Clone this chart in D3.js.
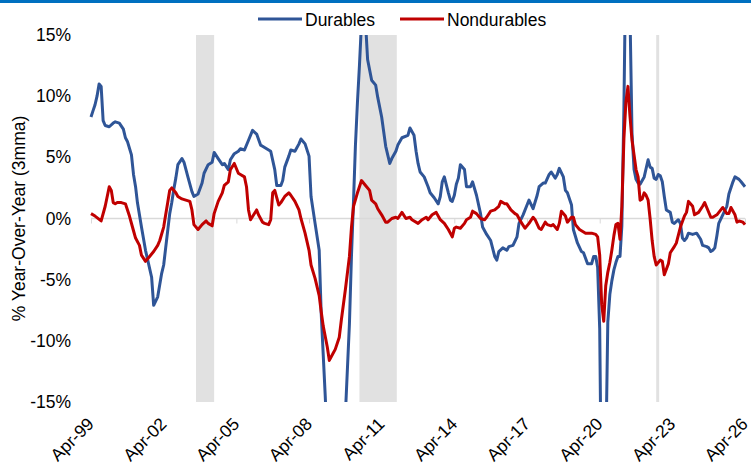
<!DOCTYPE html>
<html>
<head>
<meta charset="utf-8">
<script src="https://cdn.jsdelivr.net/npm/d3@7"></script>
<style>
  body { margin: 0; background: #fff; }
  svg { display: block; font-family: "Liberation Sans", Arial, sans-serif; }
</style>
</head>
<body>
<div id="chart"></div>
<script>

//~~~~~~~~~~~~~~~~~~DATA SET
// % year-over-year (3mma), [month, value]
const durables = [
  ["1999-04", 8.3], ["1999-05", 8.8], ["1999-06", 9.3], ["1999-07", 10.0], ["1999-08", 11.0], ["1999-09", 10.8],
  ["1999-10", 8.0], ["1999-11", 7.6], ["2000-01", 7.5], ["2000-03", 7.8], ["2000-04", 7.9], ["2000-06", 7.8],
  ["2000-08", 7.3], ["2000-09", 6.6], ["2000-10", 6.3], ["2000-12", 5.2], ["2001-01", 3.6], ["2001-02", 2.6],
  ["2001-03", 1.3], ["2001-05", -0.7], ["2001-07", -2.6], ["2001-10", -4.8], ["2001-11", -7.1], ["2002-01", -6.4],
  ["2002-03", -4.5], ["2002-04", -3.8], ["2002-05", -2.4], ["2002-07", 0.4], ["2002-08", 1.3], ["2002-09", 2.4],
  ["2002-10", 3.3], ["2002-11", 4.4], ["2003-01", 4.9], ["2003-02", 4.6], ["2003-04", 3.4], ["2003-06", 2.2],
  ["2003-07", 1.8], ["2003-09", 2.0], ["2003-11", 2.9], ["2003-12", 3.7], ["2004-02", 4.4], ["2004-04", 4.6],
  ["2004-05", 5.4], ["2004-07", 4.9], ["2004-09", 4.4], ["2004-10", 4.5], ["2004-12", 4.0], ["2005-01", 4.8],
  ["2005-03", 5.3], ["2005-05", 5.5], ["2005-06", 5.7], ["2005-08", 5.6], ["2005-10", 6.4], ["2005-12", 7.2],
  ["2006-02", 6.9], ["2006-04", 6.0], ["2006-05", 5.9], ["2006-07", 5.7], ["2006-09", 5.5], ["2006-11", 4.0],
  ["2006-12", 2.7], ["2007-02", 2.7], ["2007-03", 3.1], ["2007-04", 4.2], ["2007-06", 5.1], ["2007-07", 5.6],
  ["2007-09", 5.5], ["2007-11", 6.1], ["2007-12", 6.5], ["2008-02", 6.1], ["2008-04", 5.1], ["2008-05", 1.8],
  ["2008-07", -0.4], ["2008-09", -2.6], ["2008-10", -7.7], ["2008-12", -14.5], ["2009-02", -22], ["2009-05", -24],
  ["2009-08", -20], ["2009-10", -16], ["2009-12", -8.6], ["2010-01", -3.0], ["2010-02", 1.5], ["2010-03", 5.9],
  ["2010-04", 9.5], ["2010-05", 12.5], ["2010-06", 16], ["2010-07", 18], ["2010-08", 16], ["2010-09", 13.0],
  ["2010-11", 11.3], ["2011-01", 10.9], ["2011-02", 9.9], ["2011-04", 8.3], ["2011-06", 5.9], ["2011-08", 4.5],
  ["2011-09", 4.9], ["2011-11", 5.5], ["2011-12", 6.0], ["2012-02", 6.6], ["2012-05", 6.8], ["2012-06", 7.4],
  ["2012-08", 6.8], ["2012-09", 5.5], ["2012-10", 4.5], ["2012-11", 3.8], ["2013-01", 3.4], ["2013-03", 2.6],
  ["2013-04", 2.1], ["2013-06", 1.7], ["2013-08", 1.2], ["2013-09", 1.8], ["2013-10", 3.0], ["2013-11", 3.4],
  ["2014-01", 2.1], ["2014-02", 1.5], ["2014-03", 1.4], ["2014-04", 1.9], ["2014-05", 2.8], ["2014-06", 3.3],
  ["2014-07", 4.4], ["2014-09", 4.0], ["2014-10", 2.6], ["2014-12", 2.6], ["2015-01", 3.0], ["2015-03", 1.9],
  ["2015-05", 0.4], ["2015-06", -0.7], ["2015-08", -1.3], ["2015-10", -1.8], ["2015-12", -3.1], ["2016-01", -3.4],
  ["2016-02", -2.7], ["2016-04", -2.4], ["2016-06", -2.6], ["2016-07", -2.3], ["2016-09", -2.2], ["2016-11", -1.5],
  ["2016-12", -0.4], ["2017-02", 0.3], ["2017-04", 1.1], ["2017-05", 1.5], ["2017-07", 0.8], ["2017-09", 1.9],
  ["2017-10", 2.6], ["2017-12", 2.9], ["2018-01", 2.9], ["2018-03", 3.6], ["2018-04", 3.8], ["2018-06", 3.3],
  ["2018-07", 3.6], ["2018-08", 4.1], ["2018-10", 3.4], ["2018-11", 2.3], ["2018-12", 2.1], ["2019-02", 1.1],
  ["2019-03", -0.9], ["2019-05", -2.0], ["2019-07", -2.7], ["2019-08", -2.8], ["2019-10", -3.7], ["2019-12", -3.7],
  ["2020-01", -3.1], ["2020-02", -3.1], ["2020-03", -4.0], ["2020-04", -9], ["2020-05", -25], ["2020-06", -32],
  ["2020-07", -20], ["2020-08", -8.5], ["2020-09", -6.2], ["2020-10", -5.1], ["2020-11", -4.2], ["2020-12", -3.6],
  ["2021-01", -3.1], ["2021-02", -3.1], ["2021-03", -0.6], ["2021-04", 9], ["2021-05", 22], ["2021-06", 28],
  ["2021-07", 17], ["2021-08", 7.0], ["2021-09", 4.0], ["2021-10", 3.2], ["2021-11", 2.9], ["2021-12", 2.8],
  ["2022-02", 3.4], ["2022-04", 4.8], ["2022-05", 4.2], ["2022-06", 4.1], ["2022-07", 3.3], ["2022-08", 3.2],
  ["2022-09", 3.6], ["2022-10", 3.5], ["2022-11", 3.0], ["2022-12", 1.8], ["2023-01", 0.7], ["2023-03", 0.5],
  ["2023-04", -0.3], ["2023-05", -0.4], ["2023-07", -0.1], ["2023-08", -0.4], ["2023-09", -1.6], ["2023-10", -1.8],
  ["2023-11", -1.6], ["2023-12", -1.2], ["2024-02", -1.3], ["2024-04", -1.2], ["2024-06", -1.7], ["2024-07", -2.2],
  ["2024-09", -2.3], ["2024-10", -2.4], ["2024-11", -2.7], ["2024-12", -2.6], ["2025-01", -2.4], ["2025-02", -1.4],
  ["2025-03", -0.4], ["2025-05", 0.3], ["2025-07", 1.0], ["2025-08", 2.0], ["2025-10", 3.0], ["2025-11", 3.4],
  ["2026-01", 3.2], ["2026-02", 3.0], ["2026-04", 2.6]
];

const nondurables = [
  ["1999-04", 0.4], ["1999-06", 0.2], ["1999-09", -0.2], ["1999-11", 1.0], ["2000-01", 2.6], ["2000-02", 2.3],
  ["2000-03", 1.3], ["2000-04", 1.2], ["2000-05", 1.3], ["2000-07", 1.3], ["2000-09", 1.2], ["2000-11", 0.2],
  ["2001-01", -1.0], ["2001-02", -1.6], ["2001-04", -2.2], ["2001-05", -3.0], ["2001-07", -3.5], ["2001-09", -3.1],
  ["2001-11", -2.7], ["2002-01", -2.2], ["2002-02", -1.8], ["2002-04", -0.7], ["2002-05", 0.3], ["2002-06", 1.3],
  ["2002-07", 2.3], ["2002-08", 2.5], ["2002-10", 2.1], ["2002-11", 1.8], ["2003-01", 1.6], ["2003-03", 1.5],
  ["2003-05", 1.4], ["2003-06", 0.7], ["2003-07", -0.5], ["2003-09", -0.9], ["2003-11", -0.5], ["2004-01", -0.2],
  ["2004-02", -0.4], ["2004-04", -0.6], ["2004-05", 0.4], ["2004-07", 1.4], ["2004-09", 2.1], ["2004-10", 2.7],
  ["2004-12", 3.0], ["2005-01", 4.0], ["2005-03", 4.5], ["2005-05", 3.7], ["2005-06", 3.6], ["2005-08", 3.4],
  ["2005-09", 2.6], ["2005-10", 0.7], ["2005-11", -0.1], ["2006-02", 0.7], ["2006-03", 0.3], ["2006-05", -0.3],
  ["2006-06", -0.4], ["2006-08", -0.5], ["2006-09", -0.1], ["2006-10", 2.1], ["2006-11", 2.3], ["2007-01", 1.1],
  ["2007-02", 1.3], ["2007-04", 1.8], ["2007-06", 2.1], ["2007-07", 1.9], ["2007-09", 1.4], ["2007-11", 0.7],
  ["2007-12", 0.0], ["2008-02", -1.2], ["2008-04", -2.6], ["2008-05", -3.8], ["2008-07", -4.9], ["2008-09", -6.3],
  ["2008-10", -7.6], ["2008-11", -8.8], ["2009-01", -10.5], ["2009-02", -11.6], ["2009-04", -11.0], ["2009-05", -10.7],
  ["2009-07", -9.7], ["2009-08", -8.3], ["2009-10", -5.8], ["2009-12", -3.1], ["2010-01", -0.7], ["2010-02", 1.0],
  ["2010-04", 2.1], ["2010-06", 3.1], ["2010-08", 2.7], ["2010-10", 2.3], ["2010-11", 1.5], ["2011-01", 1.2],
  ["2011-02", 0.8], ["2011-04", 0.3], ["2011-06", -0.3], ["2011-07", -0.3], ["2011-09", 0.0], ["2011-11", 0.1],
  ["2011-12", 0.0], ["2012-02", 0.5], ["2012-04", 0.0], ["2012-06", 0.1], ["2012-07", -0.1], ["2012-10", -0.4],
  ["2012-12", -0.1], ["2013-02", 0.1], ["2013-03", -0.1], ["2013-05", 0.3], ["2013-07", 0.5], ["2013-09", -0.1],
  ["2013-11", -0.4], ["2014-01", -0.9], ["2014-03", -1.5], ["2014-04", -0.8], ["2014-05", -0.7], ["2014-07", -0.8],
  ["2014-09", -0.4], ["2014-10", -0.1], ["2014-12", 0.1], ["2015-01", 0.6], ["2015-03", 0.4], ["2015-05", 0.0],
  ["2015-07", -0.1], ["2015-08", 0.1], ["2015-10", 0.6], ["2015-12", 0.7], ["2016-02", 1.0], ["2016-03", 1.4],
  ["2016-05", 1.2], ["2016-06", 1.2], ["2016-08", 0.7], ["2016-10", 0.4], ["2016-11", 0.3], ["2017-01", -0.3],
  ["2017-03", -0.8], ["2017-05", -0.4], ["2017-07", 0.1], ["2017-08", -0.1], ["2017-10", -0.8], ["2017-11", -0.9],
  ["2018-01", -0.3], ["2018-02", -0.5], ["2018-04", -0.6], ["2018-05", -0.5], ["2018-07", -0.9], ["2018-08", -0.4],
  ["2018-09", 0.6], ["2018-11", 0.2], ["2018-12", -0.3], ["2019-02", 0.1], ["2019-03", 0.1], ["2019-04", -0.5],
  ["2019-06", -0.9], ["2019-09", -1.2], ["2019-12", -1.2], ["2020-02", -1.3], ["2020-03", -1.5], ["2020-04", -3.0],
  ["2020-05", -7.0], ["2020-06", -8.4], ["2020-07", -5.5], ["2020-08", -4.4], ["2020-09", -3.6], ["2020-10", -2.6],
  ["2020-11", -1.4], ["2020-12", -0.5], ["2021-01", -0.4], ["2021-02", -1.7], ["2021-03", 1.0], ["2021-04", 6.5],
  ["2021-05", 9.5], ["2021-06", 10.8], ["2021-07", 8.4], ["2021-08", 6.4], ["2021-09", 5.2], ["2021-10", 4.0],
  ["2021-11", 3.4], ["2021-12", 1.5], ["2022-01", 1.6], ["2022-02", 2.1], ["2022-03", 1.9], ["2022-04", 1.5],
  ["2022-05", 0.0], ["2022-06", -1.8], ["2022-07", -3.1], ["2022-08", -3.8], ["2022-10", -3.4], ["2022-11", -3.5],
  ["2022-12", -4.6], ["2023-02", -3.7], ["2023-03", -2.8], ["2023-05", -2.3], ["2023-06", -2.0], ["2023-08", -0.7],
  ["2023-10", 0.2], ["2023-11", 0.5], ["2023-12", 1.4], ["2024-02", 1.0], ["2024-03", 0.3], ["2024-05", 0.5],
  ["2024-07", 1.0], ["2024-08", 1.3], ["2024-09", 0.9], ["2024-11", 0.1], ["2024-12", 0.1], ["2025-02", 0.3],
  ["2025-04", 0.7], ["2025-05", 0.9], ["2025-07", 0.4], ["2025-08", 0.4], ["2025-09", 0.9], ["2025-11", 0.3],
  ["2025-12", -0.3], ["2026-01", -0.2], ["2026-03", -0.3], ["2026-04", -0.5]
];

// shaded periods
const bandStarts = ["2003-08-01", "2010-05-01", "2022-08-01"];
const bandEnds   = ["2004-05-01", "2011-11-15", "2022-09-15"];

// axis labels
const xTickLabels = ["Apr-99", "Apr-02", "Apr-05", "Apr-08", "Apr-11", "Apr-14", "Apr-17", "Apr-20", "Apr-23", "Apr-26"];
const yTickValues = [15, 10, 5, 0, -5, -10, -15];

const seriesNames = ["Durables", "Nondurables"];


//~~~~~~~~~~~~~~~~~~VARIABLES
let width = 751;
let height = 468;
let plotLeft = 91, plotRight = 745, plotTop = 35, plotBottom = 402;

let colors = ["#2f5597", "#c00000"];
let fontSize = 17.5;

let parseMonth = d3.timeParse("%Y-%m");
let parseDay = d3.timeParse("%Y-%m-%d");
let parseLabel = d3.timeParse("%b-%y");

let x = d3.scaleTime()
  .domain([parseMonth("1999-04"), parseMonth("2026-04")])
  .range([plotLeft, plotRight]);

let y = d3.scaleLinear()
  .domain([-15, 15])
  .range([plotBottom, plotTop]);


//~~~~~~~~~~~~~~~~~~CHART
let svg = d3.select("#chart")
  .append("svg")
  .attr("width", width)
  .attr("height", height);

//blue strip along the top edge
svg.append("rect")
  .attr("x", 0).attr("y", 0)
  .attr("width", width).attr("height", 3)
  .attr("fill", "#0070c0");

svg.append("clipPath")
  .attr("id", "plot-clip")
  .append("rect")
  .attr("x", plotLeft - 5).attr("y", plotTop)
  .attr("width", plotRight - plotLeft + 10).attr("height", plotBottom - plotTop);

//grey shaded periods
svg.selectAll(".band")
  .data(d3.zip(bandStarts, bandEnds))
  .enter()
  .append("rect")
  .attr("class", "band")
  .attr("x", d => x(parseDay(d[0])))
  .attr("width", d => x(parseDay(d[1])) - x(parseDay(d[0])))
  .attr("y", plotTop)
  .attr("height", plotBottom - plotTop)
  .attr("fill", "#e1e1e1");

//zero line with tick marks, like the category axis
svg.append("line")
  .attr("x1", plotLeft).attr("x2", plotRight)
  .attr("y1", y(0)).attr("y2", y(0))
  .attr("stroke", "#d9d9d9")
  .attr("stroke-width", 1.5);

let xAxis = d3.axisBottom(x)
  .tickValues(xTickLabels.map(parseLabel))
  .tickSize(5)
  .tickFormat("");

svg.append("g")
  .attr("transform", "translate(0," + y(0) + ")")
  .call(xAxis)
  .call(g => g.select(".domain").remove())
  .call(g => g.selectAll("line").attr("stroke", "#d9d9d9"));

//rotated date labels under the plot
svg.selectAll(".xlabel")
  .data(xTickLabels)
  .enter()
  .append("text")
  .attr("class", "xlabel")
  .attr("transform", d => "translate(" + (x(parseLabel(d)) + 4) + "," + (plotBottom + 23) + ") rotate(-45)")
  .attr("text-anchor", "end")
  .attr("font-size", fontSize)
  .attr("fill", "#000")
  .text(d => d);

//y labels
svg.selectAll(".ylabel")
  .data(yTickValues)
  .enter()
  .append("text")
  .attr("class", "ylabel")
  .attr("x", 71)
  .attr("y", d => y(d) + 6)
  .attr("text-anchor", "end")
  .attr("font-size", fontSize)
  .attr("fill", "#000")
  .text(d => d + "%");

svg.append("text")
  .attr("transform", "translate(25," + ((plotTop + plotBottom) / 2) + ") rotate(-90)")
  .attr("text-anchor", "middle")
  .attr("font-size", fontSize)
  .attr("fill", "#000")
  .text("% Year-Over-Year (3mma)");

//the two lines
let line = d3.line()
  .x(d => x(parseMonth(d[0])))
  .y(d => y(d[1]));

svg.append("g")
  .attr("clip-path", "url(#plot-clip)")
  .selectAll("path")
  .data([durables, nondurables])
  .enter()
  .append("path")
  .attr("d", line)
  .attr("fill", "none")
  .attr("stroke", (d, i) => colors[i])
  .attr("stroke-width", 3)
  .attr("stroke-linejoin", "round");


//~~~~~~~~~~~~~~~~~~LEGEND
let legendX = [258, 400];

let legend = svg.selectAll(".legend")
  .data(seriesNames)
  .enter()
  .append("g")
  .attr("class", "legend")
  .attr("transform", (d, i) => "translate(" + legendX[i] + ",19)");

legend.append("line")
  .attr("x1", 0).attr("x2", 44)
  .attr("stroke", (d, i) => colors[i])
  .attr("stroke-width", 3);

legend.append("text")
  .attr("x", 47)
  .attr("y", 7)
  .attr("font-size", fontSize)
  .attr("fill", "#000")
  .text(d => d);

</script>
</body>
</html>
